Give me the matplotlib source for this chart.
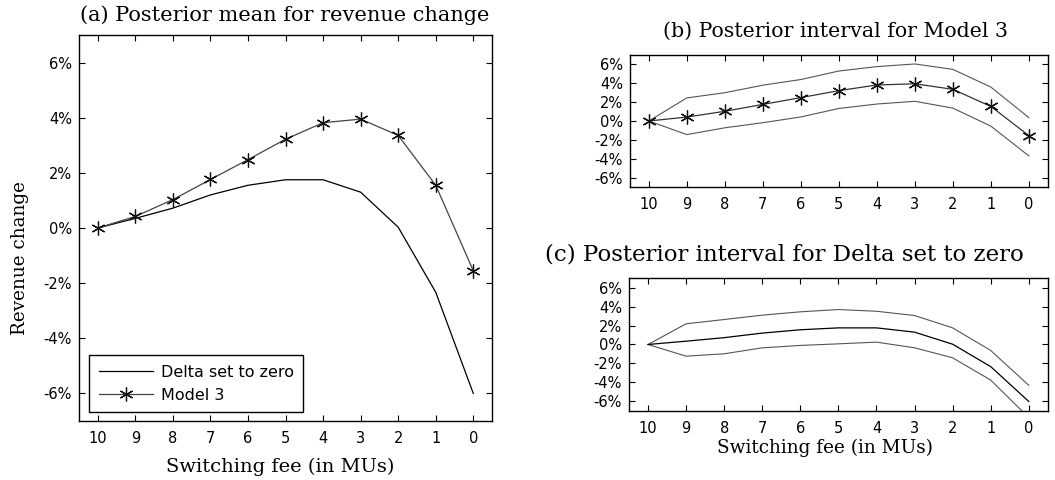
import matplotlib
matplotlib.use("Agg")
import matplotlib.pyplot as plt
from matplotlib.ticker import FuncFormatter

fee = [10, 9, 8, 7, 6, 5, 4, 3, 2, 1, 0]
model3_mean = [0.0, 0.42, 1.03, 1.76, 2.48, 3.22, 3.82, 3.95, 3.36, 1.55, -1.55]
delta_mean = [0.0, 0.35, 0.72, 1.2, 1.55, 1.75, 1.75, 1.3, 0.03, -2.33, -6.0]
model3_upper = [0.0, 2.45, 3.0, 3.8, 4.4, 5.3, 5.77, 6.05, 5.48, 3.6, 0.36]
model3_lower = [0.0, -1.44, -0.72, -0.18, 0.43, 1.33, 1.8, 2.09, 1.37, -0.54, -3.7]
delta_upper = [0.0, 2.18, 2.63, 3.09, 3.44, 3.68, 3.5, 3.05, 1.75, -0.63, -4.3]
delta_lower = [0.0, -1.23, -0.98, -0.35, -0.1, 0.07, 0.25, -0.35, -1.4, -3.75, -7.7]
yticks = [-6, -4, -2, 0, 2, 4, 6]

titles = ["(a) Posterior mean for revenue change",
          "(b) Posterior interval for Model 3",
          "(c) Posterior interval for Delta set to zero"]
xlabel = "Switching fee (in MUs)"
ylabel = "Revenue change"

SANS = "DejaVu Sans"
SERIF = "DejaVu Serif"
plt.rcParams['font.family'] = SANS

W, H = 1055, 480
fig = plt.figure(figsize=(10.55, 4.8), dpi=100)
ax_a = fig.add_axes([0.0749, 0.123, 0.3915, 0.804])
ax_b = fig.add_axes([0.597, 0.6104, 0.3962, 0.275])
ax_c = fig.add_axes([0.5962, 0.1438, 0.397, 0.277])

pct = FuncFormatter(lambda v, p: f"{int(v)}%")
star = (6, 2, 0)


def style(ax):
    ax.set_xlim(10.5, -0.5)
    ax.set_ylim(-7, 7)
    ax.set_xticks(fee)
    ax.set_xticklabels([str(f) for f in fee])
    ax.set_yticks(yticks)
    ax.yaxis.set_major_formatter(pct)
    ax.tick_params(direction='in', top=True, right=True, length=4,
                   width=0.8, labelsize=10.5, pad=5, colors='black')
    ax.tick_params(axis='x', pad=7)
    for s in ax.spines.values():
        s.set_linewidth(1.0)
        s.set_color('black')


def ftext(px, py, s, **kw):
    fig.text(px / W, 1 - py / H, s, ha='center', va='center', **kw)


# (a)
ax_a.plot(fee, delta_mean, color='black', lw=0.9, label="Delta set to zero")
ax_a.plot(fee, model3_mean, color='#444444', lw=0.9, marker=star,
          markersize=10, markeredgewidth=0.9, markeredgecolor='#111111',
          label="Model 3")
style(ax_a)
leg = ax_a.legend(loc='lower left', bbox_to_anchor=(0.024, 0.023),
                  borderaxespad=0, fontsize=11.5, handlelength=3.4,
                  handletextpad=0.5, fancybox=False, framealpha=1,
                  edgecolor='black', borderpad=0.6, labelspacing=0.5)
leg.get_frame().set_linewidth(1.0)

# (b)
ax_b.plot(fee, model3_upper, color='#555555', lw=0.8)
ax_b.plot(fee, model3_lower, color='#555555', lw=0.8)
ax_b.plot(fee, model3_mean, color='#333333', lw=0.9, marker=star,
          markersize=10, markeredgewidth=0.9, markeredgecolor='#111111')
style(ax_b)

# (c)
ax_c.plot(fee, delta_upper, color='#555555', lw=0.8)
ax_c.plot(fee, delta_lower, color='#555555', lw=0.8)
ax_c.plot(fee, delta_mean, color='black', lw=0.9)
style(ax_c)

# titles and labels
ftext(284.5, 15, titles[0], fontfamily=SERIF, fontsize=15)
ftext(835.5, 31, titles[1], fontfamily=SERIF, fontsize=14.8)
ftext(784, 254, titles[2], fontfamily=SERIF, fontsize=16.5)
ftext(280, 467, xlabel, fontfamily=SERIF, fontsize=14)
ftext(825, 448, xlabel, fontfamily=SERIF, fontsize=13.3)
ftext(20, 258, ylabel, fontfamily=SERIF, fontsize=13.2, rotation=90)

fig.savefig("out.png", dpi=100, facecolor='white')
